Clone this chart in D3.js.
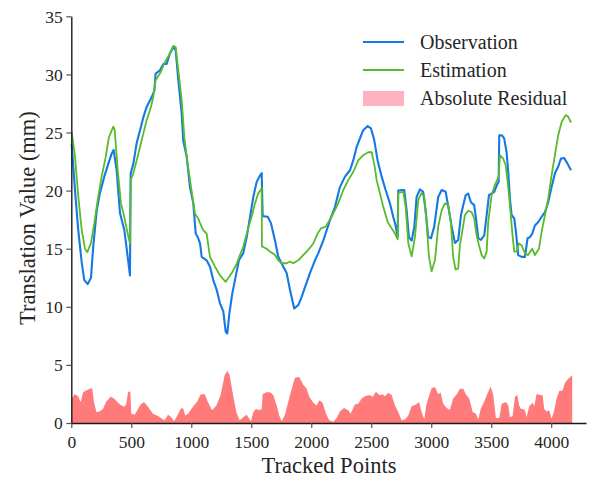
<!DOCTYPE html>
<html><head><meta charset="utf-8">
<script src="https://cdn.jsdelivr.net/npm/d3@7"></script>
<style>
html,body{margin:0;padding:0;background:#fff;}
svg{display:block;}
svg text{font-family:"Liberation Serif","Times New Roman",serif !important;}
</style></head>
<body><svg id="c" width="595" height="479"></svg>
<script>
// ---- data ----
const obsX = [3,31,58,87,108,137,164,183,212,239,275,308,337,353,378,406,442,470,489,495,517,545,573,600,628,670,692,703,739,767,795,822,850,870,892,920,933,962,989,1017,1037,1058,1073,1087,1128,1156,1183,1212,1239,1267,1287,1300,1317,1342,1370,1397,1433,1462,1489,1517,1545,1573,1587,1595,1637,1664,1698,1725,1767,1795,1823,1858,1892,1920,1948,1989,2031,2058,2100,2156,2198,2239,2281,2323,2350,2378,2406,2433,2470,2498,2525,2553,2587,2620,2656,2683,2703,2720,2725,2758,2775,2795,2814,2837,2859,2878,2906,2933,2953,2975,2998,3025,3058,3087,3120,3148,3170,3198,3225,3248,3267,3287,3308,3331,3358,3373,3392,3414,3442,3462,3481,3503,3525,3548,3562,3567,3590,3608,3628,3642,3656,3670,3692,3706,3725,3753,3781,3803,3823,3842,3864,3892,3920,3948,3975,4003,4031,4058,4081,4108,4137,4165];
const obsY = [24.0,20.0,16.6,13.8,12.3,11.95,12.5,15.2,18.3,19.8,21.2,22.3,23.2,23.5,21.75,18.05,16.6,14.3,12.7,21.5,22.3,24.1,25.2,26.3,27.2,28.05,28.6,30.07,30.35,30.9,30.9,31.8,32.35,32.07,29.5,26.65,24.3,22.9,20.3,18.9,16.3,15.9,15.45,14.3,14.0,13.45,12.3,11.45,10.3,9.6,7.85,7.7,9.4,11.15,12.6,14.0,14.6,16.0,17.7,19.45,20.75,21.3,21.5,17.8,17.75,17.2,15.7,14.3,13.45,12.9,11.45,9.85,10.15,10.85,11.7,12.9,14.0,14.6,15.7,17.45,18.6,20.3,21.2,21.75,22.6,23.75,24.5,25.2,25.55,25.35,24.35,22.6,21.2,20.05,18.9,17.75,17.0,16.0,20.0,20.05,20.05,18.3,16.0,15.7,16.9,19.45,20.1,19.9,18.3,16.0,15.9,16.9,19.45,20.05,19.9,18.3,16.9,15.5,15.75,17.9,18.75,19.6,19.75,19.0,18.75,17.6,15.9,15.75,16.15,17.9,19.6,19.75,19.9,20.5,20.75,24.75,24.75,24.5,23.3,21.6,19.3,17.9,17.6,16.45,14.45,14.3,14.3,15.9,16.0,16.3,17.0,17.3,17.75,18.15,19.0,20.3,21.5,22.05,22.75,22.8,22.3,21.75];

const estX = [3,31,58,87,114,134,164,192,220,253,287,314,350,362,387,414,442,470,489,495,517,545,573,600,628,664,683,703,739,781,822,850,870,892,920,942,970,998,1031,1058,1073,1100,1128,1156,1198,1239,1287,1337,1378,1406,1433,1470,1503,1531,1558,1587,1589,1628,1656,1698,1725,1753,1795,1823,1850,1892,1933,1975,2017,2053,2081,2120,2170,2225,2267,2308,2350,2392,2433,2475,2503,2525,2545,2573,2600,2637,2670,2698,2720,2725,2767,2787,2809,2837,2864,2892,2920,2942,2962,2981,3003,3031,3058,3087,3114,3142,3164,3183,3203,3225,3239,3258,3281,3308,3337,3358,3378,3398,3420,3442,3462,3475,3503,3531,3562,3573,3600,3620,3637,3656,3675,3692,3712,3731,3753,3781,3808,3842,3864,3898,3920,3948,3975,4003,4031,4058,4087,4120,4142,4165];
const estY = [25.05,22.9,19.5,16.6,15.0,14.7,15.5,17.2,19.2,21.2,22.9,24.6,25.5,25.2,21.75,18.9,17.7,16.3,15.45,20.9,21.5,22.6,23.75,24.9,26.05,27.2,28.05,29.5,30.07,31.07,31.8,32.45,32.35,30.35,27.8,24.6,22.3,20.3,18.0,17.6,17.2,16.6,16.3,14.3,13.45,12.7,12.15,12.9,13.7,14.45,15.15,16.6,17.75,18.9,19.75,20.2,15.2,15.0,14.75,14.45,14.0,13.75,13.75,13.9,13.75,14.0,14.45,14.9,15.45,16.3,16.75,16.9,17.75,18.9,20.05,20.9,21.6,22.6,23.05,23.3,23.3,22.3,20.9,19.75,18.6,17.3,16.75,16.3,15.8,19.8,19.9,18.6,15.45,14.35,16.0,19.2,19.8,19.45,17.2,14.3,13.05,14.0,16.9,18.3,18.9,18.75,17.2,14.3,13.2,13.3,15.3,16.45,17.9,18.25,18.15,17.6,16.15,15.3,14.45,14.15,14.75,17.3,19.6,20.5,21.2,23.05,22.75,22.2,20.75,18.75,16.45,14.75,14.75,15.45,15.3,14.6,14.45,15.0,14.45,15.0,16.45,17.9,19.3,21.3,23.05,24.75,25.9,26.5,26.35,25.85];

const resX = [5,28,56,78,98,125,161,175,189,209,236,264,292,328,356,389,417,445,459,473,492,500,528,550,578,606,639,681,723,756,778,806,834,856,884,911,931,950,973,1014,1050,1078,1111,1139,1173,1209,1245,1278,1300,1320,1348,1375,1403,1433,1462,1483,1498,1517,1539,1567,1587,1595,1628,1656,1683,1712,1733,1753,1781,1808,1837,1864,1900,1933,1962,1983,2017,2045,2067,2095,2123,2150,2183,2212,2239,2273,2308,2328,2364,2392,2420,2448,2483,2512,2539,2567,2595,2614,2642,2670,2698,2725,2753,2781,2809,2837,2873,2898,2920,2942,2958,2975,3003,3031,3058,3078,3100,3128,3156,3183,3212,3239,3267,3290,3317,3345,3373,3392,3412,3442,3467,3495,3517,3539,3567,3587,3623,3642,3656,3678,3698,3717,3733,3748,3765,3781,3795,3817,3845,3859,3878,3906,3928,3942,3962,3983,4003,4022,4045,4067,4095,4114,4142,4175];
const resY = [2.1,2.5,2.3,1.8,2.65,2.8,3.0,2.95,1.8,0.95,1.0,1.2,1.85,2.25,2.1,1.75,1.5,1.4,1.7,2.7,2.7,0.8,0.7,1.1,1.6,1.8,1.4,0.8,0.6,0.37,0.23,0.7,0.5,0.15,0.65,1.2,1.3,0.65,0.8,1.4,1.85,2.45,2.5,1.8,1.1,1.5,2.4,4.1,4.5,4.1,2.4,0.95,0.23,0.5,0.7,0.37,0.15,0.95,1.2,1.1,1.2,2.5,2.65,2.65,2.4,1.5,0.65,0.15,0.7,1.8,2.95,3.9,3.95,3.3,2.95,2.25,1.75,1.5,1.95,1.75,0.8,0.23,0.1,0.43,1.0,1.3,1.1,0.8,1.6,1.65,2.1,2.3,2.4,2.25,2.7,2.4,2.45,2.3,2.6,2.4,1.5,0.95,0.23,0.3,0.65,1.45,1.6,1.8,0.95,0.3,1.5,2.1,3.0,3.1,2.5,2.6,1.65,1.3,1.15,2.1,2.45,2.95,2.95,2.45,2.1,0.95,0.8,0.3,1.2,1.85,2.5,3.15,2.4,0.43,0.43,1.65,1.8,1.5,0.5,0.6,2.25,2.4,1.5,1.2,1.2,1.1,0.5,1.45,1.75,1.45,2.5,2.4,2.4,1.2,1.0,1.1,0.37,0.95,2.1,2.75,2.8,3.45,3.8,4.1];

const xTicks = [0,500,1000,1500,2000,2500,3000,3500,4000];
const yTicks = [0,5,10,15,20,25,30,35];
const seriesNames = ["Observation","Estimation","Absolute Residual"];
const colors = {obs:"#1479e3", est:"#58bb2a", res:"#ff7a7a", resLegend:"#ffb3bf"};

// ---- chart ----
const FONT = "'Liberation Serif','Times New Roman',serif";
const svg = d3.select("#c");
const x = d3.scaleLinear().domain([0,4290]).range([71.3,586]);
const y = d3.scaleLinear().domain([0,35]).range([423,16.3]);

const obs = obsX.map((d,i)=>[d,obsY[i]]);
const est = estX.map((d,i)=>[d,estY[i]]);
const res = resX.map((d,i)=>[d,resY[i]]);

svg.append("path").datum(res)
  .attr("fill",colors.res)
  .attr("d",d3.area().x(d=>x(d[0])).y0(y(0)).y1(d=>y(d[1])));

const line = d3.line().x(d=>x(d[0])).y(d=>y(d[1]));
svg.append("path").datum(obs).attr("fill","none").attr("stroke",colors.obs)
  .attr("stroke-width",2.1).attr("stroke-linejoin","round").attr("d",line);
svg.append("path").datum(est).attr("fill","none").attr("stroke",colors.est)
  .attr("stroke-width",1.8).attr("stroke-linejoin","round").attr("d",line);

const tc = "#262626";
const gx = svg.append("g").attr("transform","translate(0,423)")
  .call(d3.axisBottom(x).tickValues(xTicks).tickSize(5).tickSizeOuter(0).tickFormat(d3.format("d")));
const gy = svg.append("g").attr("transform","translate(71.3,0)")
  .call(d3.axisLeft(y).tickValues(yTicks).tickSize(5).tickSizeOuter(0));
[gx,gy].forEach(g=>{
  g.attr("font-family",FONT).attr("font-size",17.5);
  g.select(".domain").attr("stroke","#1a1a1a").attr("stroke-width",1.4);
  g.selectAll(".tick line").attr("stroke","#555").attr("stroke-width",1.2);
  g.selectAll("text").attr("fill",tc).attr("font-family",FONT).attr("font-size",17.5);
});
gx.selectAll(".tick text").attr("y",13).attr("dy","0.71em");
gy.selectAll(".tick text").attr("x",-8.5).attr("dy","0.33em");

svg.append("text").attr("x",329).attr("y",473).attr("text-anchor","middle")
  .attr("font-family",FONT).attr("fill",tc).attr("font-size",22.5).text("Tracked Points");
svg.append("text").attr("transform","translate(35,218) rotate(-90)")
  .attr("text-anchor","middle").attr("font-family",FONT).attr("fill",tc).attr("font-size",22.5)
  .text("Translation Value (mm)");

// legend
const lg = svg.append("g");
const ly = [42,70,98.5];
lg.append("line").attr("x1",363).attr("x2",404).attr("y1",ly[0]).attr("y2",ly[0])
  .attr("stroke",colors.obs).attr("stroke-width",2.1);
lg.append("line").attr("x1",363).attr("x2",404).attr("y1",ly[1]).attr("y2",ly[1])
  .attr("stroke",colors.est).attr("stroke-width",1.8);
lg.append("rect").attr("x",363).attr("y",ly[2]-7.5).attr("width",41).attr("height",15)
  .attr("fill",colors.resLegend);
seriesNames.forEach((n,i)=>{
  lg.append("text").attr("x",420).attr("y",ly[i]).attr("dy","0.34em")
    .attr("font-family",FONT).attr("fill",tc).attr("font-size",20).text(n);
});
</script></body></html>
